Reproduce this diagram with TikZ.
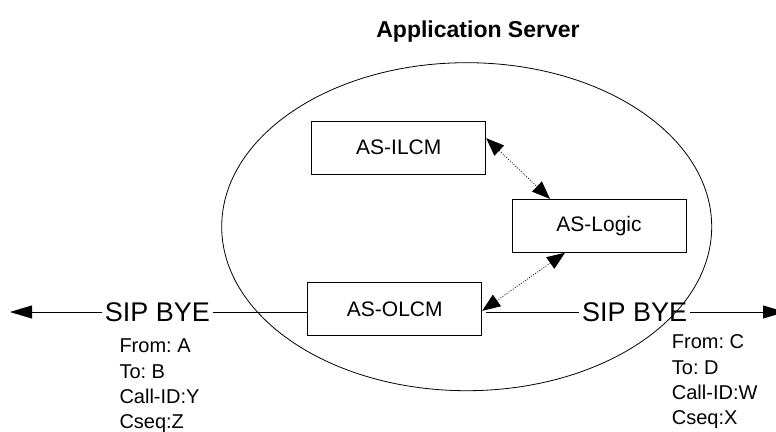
\documentclass[tikz,border=0pt]{standalone}
\usepackage{fontspec}
\setmainfont{Liberation Sans}
\frenchspacing
\usetikzlibrary{arrows.meta,shapes.geometric}
\begin{document}
\begin{tikzpicture}[x=1pt,y=-1pt,
  box/.style={draw, line width=0.8pt, minimum width=174pt, minimum height=53pt, inner sep=0pt, font=\fontsize{21}{25}\selectfont},
  sip/.style={inner sep=2.5pt, font=\fontsize{27}{32}\selectfont},
  info/.style={inner sep=0pt, align=left, anchor=north west, font=\fontsize{20}{25.3}\selectfont},
  msg/.style={line width=0.8pt, -{Triangle[length=22pt,width=13pt]}},
  link/.style={line width=0.7pt, dash pattern=on 1pt off 1.5pt, {Triangle[length=18pt,width=14pt]}-{Triangle[length=18pt,width=14pt]}}]
\useasboundingbox (0,0) rectangle (776,431);
\node[ellipse, draw, line width=0.8pt, minimum width=490pt, minimum height=328pt, inner sep=0pt] (as) at (466.7,226.7) {};
\node[anchor=base, inner sep=0pt, font=\fontsize{23}{27}\selectfont\bfseries] (title) at (478,37) {Application Server};
\node[box] (ilcm) at (398.8,147.7) {AS-ILCM};
\node[box] (logic) at (599,225.8) {AS-Logic};
\node[box] (olcm) at (394.8,308.8) {AS-OLCM};
\node[sip] (sipL) at (157.5,312) {SIP BYE};
\node[sip] (sipR) at (634.7,312) {SIP BYE};
\coordinate (endL) at (10,312);
\coordinate (endR) at (785,312);
\node[info] (infoL) at (119.3,339) {From: A\\To: B\\Call-ID:Y\\Cseq:Z};
\node[info] (infoR) at (671.7,334.7) {From: C\\To: D\\Call-ID:W\\Cseq:X};
\draw[msg] (sipL.west) -- (endL);
\draw[line width=0.8pt] (sipL.east) -- (sipL.east -| olcm.west);
\draw[line width=0.8pt, shorten <=4pt] (sipR.west -| olcm.east) -- (sipR.west);
\draw[msg] (sipR.east) -- (endR);
\draw[link] ([yshift=9.5pt]ilcm.east) -- ([xshift=-49pt]logic.north);
\draw[link] ([xshift=-34pt]logic.south) -- ([yshift=-2pt]olcm.east);
\end{tikzpicture}
\end{document}
